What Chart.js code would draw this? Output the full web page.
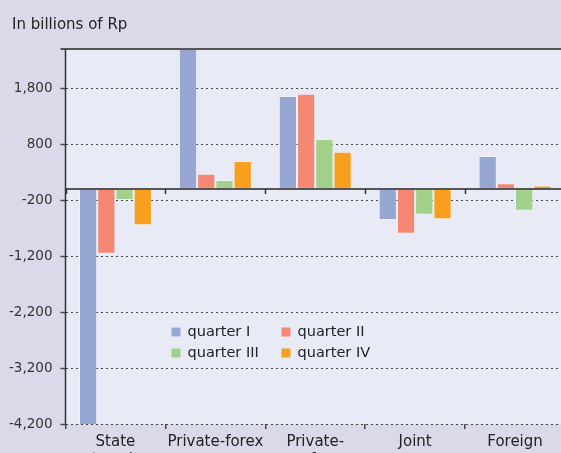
<!DOCTYPE html>
<html>
<head>
<meta charset="utf-8">
<script src="https://cdn.jsdelivr.net/npm/chart.js@4/dist/chart.umd.min.js"></script>
<style>
  html, body { margin: 0; padding: 0; overflow: hidden; background: #dad9ea; }
  #wrap { position: absolute; left: 0; top: 0; width: 561px; height: 453px; overflow: hidden; }
</style>
</head>
<body>
<div id="wrap"><canvas id="c" width="580" height="480"></canvas></div>
<script>
const categories = [["State", "enterprises"], ["Private-forex"], ["Private-", "nonforex"], ["Joint"], ["Foreign"]];
const seriesNames = ["quarter I", "quarter II", "quarter III", "quarter IV"];
const seriesColors = ["#98a6d4", "#f48872", "#a1d18a", "#f89f1e"];
const quarter1 = [-4400, 2600, 1660, -555, 590];
const quarter2 = [-1160, 270, 1700, -800, 100];
const quarter3 = [-200, 160, 890, -460, -390];
const quarter4 = [-650, 500, 665, -540, 60];
const yTicks = [-4200, -3200, -2200, -1200, -200, 800, 1800];
const titleText = "In billions of Rp";

const FONT = "'DejaVu Sans', sans-serif";

const plotFrame = {
  id: "plotFrame",
  beforeDraw(chart) {
    const { ctx, chartArea: a } = chart;
    ctx.save();
    ctx.fillStyle = "#e8ebf6";
    ctx.fillRect(a.left, a.top, a.right - a.left, a.bottom - a.top);
    ctx.fillStyle = "#222";
    ctx.font = "15px " + FONT;
    ctx.textBaseline = "alphabetic";
    ctx.fillText(titleText, 12, 29);
    ctx.restore();
  },
  afterDatasetsDraw(chart) {
    const { ctx, chartArea: a, scales } = chart;
    const y0 = scales.y.getPixelForValue(0);
    const n = categories.length;
    const w = (a.right - a.left) / n;
    ctx.save();
    ctx.strokeStyle = "#555";
    ctx.lineWidth = 2;
    ctx.beginPath();
    ctx.moveTo(a.left, y0);
    ctx.lineTo(a.right, y0);
    ctx.moveTo(a.left - 5, a.top);
    ctx.lineTo(a.right, a.top);
    ctx.stroke();
    ctx.strokeStyle = "#333";
    ctx.lineWidth = 1.5;
    ctx.beginPath();
    ctx.moveTo(a.left, a.top);
    ctx.lineTo(a.left, a.bottom);
    for (let i = 0; i <= n; i++) {
      const x = Math.round(a.left + i * w) + 0.5;
      ctx.moveTo(x, y0);
      ctx.lineTo(x, y0 + 5);
    }
    ctx.stroke();

    // legend inside the plot
    ctx.font = "14.5px " + FONT;
    ctx.textBaseline = "middle";
    const cols = [a.left + 106, a.left + 216];
    const rows = [a.top + 283, a.top + 304];
    chart.data.datasets.forEach((ds, i) => {
      const bx = cols[i % 2], by = rows[Math.floor(i / 2)];
      ctx.fillStyle = ds.backgroundColor;
      ctx.fillRect(bx, by - 4.5, 9, 9);
      ctx.fillStyle = "#222";
      ctx.fillText(ds.label, bx + 16, by);
    });
    ctx.restore();
  }
};

const allSeries = [quarter1, quarter2, quarter3, quarter4];

new Chart(document.getElementById("c"), {
  type: "bar",
  data: {
    labels: categories,
    datasets: allSeries.map((vals, i) => ({
      label: seriesNames[i],
      data: vals,
      backgroundColor: seriesColors[i],
      borderColor: "rgba(255,255,255,0.35)",
      borderWidth: 1,
      categoryPercentage: 0.73,
      barPercentage: 1.0
    }))
  },
  options: {
    responsive: false,
    animation: false,
    layout: { padding: { left: 2, right: 15, top: 49, bottom: 0 } },
    plugins: {
      legend: { display: false },
      tooltip: { enabled: false },
      title: { display: false }
    },
    scales: {
      x: {
        grid: { drawOnChartArea: false, tickLength: 5, color: "#444", lineWidth: 1.5, offset: true },
        border: { display: false },
        ticks: { color: "#222", font: { family: FONT, size: 15 }, padding: 4, maxRotation: 0, autoSkip: false },
        afterFit(scale) { scale.height = 56; }
      },
      y: {
        min: -4200,
        max: 2500,
        afterBuildTicks(scale) { scale.ticks = yTicks.map(v => ({ value: v })); },
        afterFit(scale) { scale.width = 63.5; },
        grid: { color: "#444", lineWidth: 1, tickLength: 5, tickBorderDash: [], tickWidth: 1.5 },
        border: { display: false, dash: [2, 3] },
        ticks: {
          color: "#333",
          font: { family: FONT, size: 13.5 },
          padding: 8,
          callback: v => v.toLocaleString("en-US")
        }
      }
    }
  },
  plugins: [plotFrame]
});
</script>
</body>
</html>
